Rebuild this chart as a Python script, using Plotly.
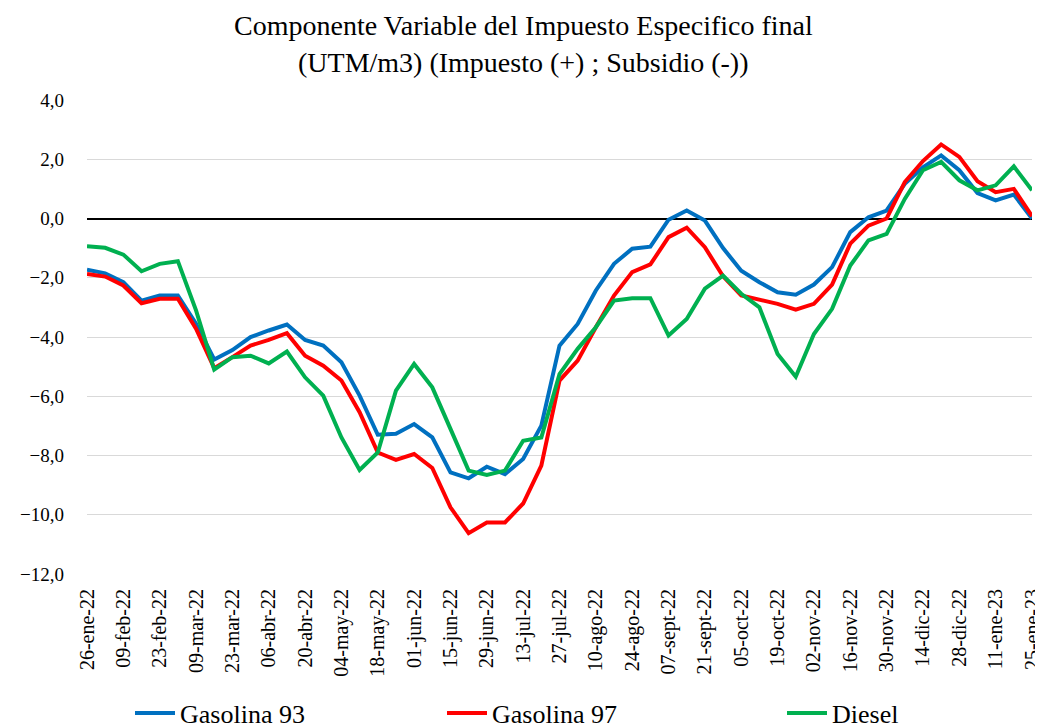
import plotly.graph_objects as go

weeks = ["26-ene-22", "02-feb-22", "09-feb-22", "16-feb-22", "23-feb-22", "02-mar-22",
         "09-mar-22", "16-mar-22", "23-mar-22", "30-mar-22", "06-abr-22", "13-abr-22",
         "20-abr-22", "27-abr-22", "04-may-22", "11-may-22", "18-may-22", "25-may-22",
         "01-jun-22", "08-jun-22", "15-jun-22", "22-jun-22", "29-jun-22", "06-jul-22",
         "13-jul-22", "20-jul-22", "27-jul-22", "03-ago-22", "10-ago-22", "17-ago-22",
         "24-ago-22", "31-ago-22", "07-sept-22", "14-sept-22", "21-sept-22", "28-sept-22",
         "05-oct-22", "12-oct-22", "19-oct-22", "26-oct-22", "02-nov-22", "09-nov-22",
         "16-nov-22", "23-nov-22", "30-nov-22", "07-dic-22", "14-dic-22", "21-dic-22",
         "28-dic-22", "04-ene-23", "11-ene-23", "18-ene-23", "25-ene-23"]

tick_labels = weeks[::2]

gasolina_93 = [-1.73, -1.85, -2.15, -2.77, -2.60, -2.60, -3.55, -4.76, -4.44, -4.00,
               -3.78, -3.58, -4.10, -4.29, -4.85, -5.98, -7.30, -7.27, -6.94, -7.39,
               -8.57, -8.77, -8.38, -8.63, -8.12, -6.99, -4.29, -3.56, -2.43, -1.53,
               -1.02, -0.95, -0.04, 0.27, -0.07, -1.00, -1.76, -2.15, -2.49, -2.57,
               -2.23, -1.64, -0.46, 0.04, 0.27, 1.17, 1.73, 2.13, 1.63, 0.86,
               0.61, 0.81, 0.00]

gasolina_97 = [-1.87, -1.96, -2.26, -2.86, -2.71, -2.71, -3.72, -5.05, -4.68, -4.29,
               -4.10, -3.87, -4.63, -4.97, -5.47, -6.54, -7.90, -8.15, -7.95, -8.42,
               -9.75, -10.62, -10.26, -10.26, -9.62, -8.34, -5.47, -4.80, -3.67, -2.60,
               -1.81, -1.55, -0.63, -0.31, -0.97, -1.95, -2.60, -2.75, -2.88, -3.08,
               -2.88, -2.23, -0.85, -0.24, 0.00, 1.23, 1.94, 2.50, 2.08, 1.26,
               0.89, 1.00, 0.08]

diesel = [-0.94, -0.99, -1.22, -1.78, -1.53, -1.44, -3.10, -5.10, -4.68, -4.63,
          -4.89, -4.49, -5.36, -5.98, -7.39, -8.49, -7.90, -5.81, -4.91, -5.70,
          -7.10, -8.51, -8.66, -8.51, -7.50, -7.39, -5.25, -4.40, -3.67, -2.77,
          -2.69, -2.69, -3.95, -3.39, -2.37, -1.93, -2.54, -3.00, -4.57, -5.34,
          -3.90, -3.05, -1.59, -0.74, -0.52, 0.66, 1.63, 1.91, 1.29, 0.95,
          1.12, 1.76, 0.95]

series = [("Gasolina 93", gasolina_93, "#0070C0"),
          ("Gasolina 97", gasolina_97, "#FF0000"),
          ("Diesel", diesel, "#00B050")]

title_lines = ["Componente Variable del Impuesto Especifico final",
               "(UTM/m3) (Impuesto (+) ; Subsidio (-))"]

FONT = "Liberation Serif"

# page body has an 8 px margin: figure is drawn 8 px right/down of the window origin
OFF = 8
W, H = 1043 - OFF, 728 - OFF
PL, PR, PT, PB = 87 - OFF, 1032 - OFF, 100 - OFF, 574 - OFF
PW, PH = PR - PL, PB - PT


def px_x(page_x):
    return (page_x - OFF - PL) / PW


def px_y(page_y):
    return (PB - (page_y - OFF)) / PH


fig = go.Figure()
legend_ids = ["legend", "legend2", "legend3"]
legend_x = [130, 442, 782]
for (name, vals, color), lid in zip(series, legend_ids):
    fig.add_trace(go.Scatter(x=weeks, y=vals, name=name, mode="lines",
                             line=dict(color=color, width=4), legend=lid))

for line, ypx in zip(title_lines, [25, 63]):
    fig.add_annotation(text=line, xref="paper", x=px_x(523), xanchor="center",
                       yref="paper", y=px_y(ypx), yanchor="middle",
                       showarrow=False,
                       font=dict(family=FONT, size=28, color="#000000"))

legend_style = dict(orientation="h", xanchor="left", yanchor="middle",
                    font=dict(family=FONT, size=26, color="#000000"),
                    itemwidth=40, bgcolor="rgba(0,0,0,0)")

fig.update_layout(
    width=W, height=H,
    paper_bgcolor="white", plot_bgcolor="white",
    margin=dict(l=PL, r=W - PR, t=PT, b=H - PB, autoexpand=False),
    separators=",.",
    font=dict(family=FONT, color="#000000"),
    showlegend=True,
    legend=dict(x=px_x(legend_x[0]), y=px_y(713), **legend_style),
    legend2=dict(x=px_x(legend_x[1]), y=px_y(713), **legend_style),
    legend3=dict(x=px_x(legend_x[2]), y=px_y(713), **legend_style),
)

fig.update_xaxes(type="category", range=[0, 52], tickmode="array",
                 tickvals=tick_labels, ticktext=tick_labels, tickangle=-90,
                 tickfont=dict(family=FONT, size=20, color="#000000"),
                 showgrid=False, showline=False, zeroline=False, ticks="",
                 ticklabelstandoff=10, automargin=False)

fig.update_yaxes(range=[-12, 4], tickmode="array", tickvals=list(range(-12, 5, 2)),
                 tickformat=".1f",
                 tickfont=dict(family=FONT, size=19, color="#000000"),
                 showgrid=True, gridcolor="#D9D9D9", gridwidth=1.3,
                 zeroline=True, zerolinecolor="#000000", zerolinewidth=1.6,
                 showline=False, ticks="", ticklabelstandoff=22, automargin=False)

fig.write_html("out.html")
